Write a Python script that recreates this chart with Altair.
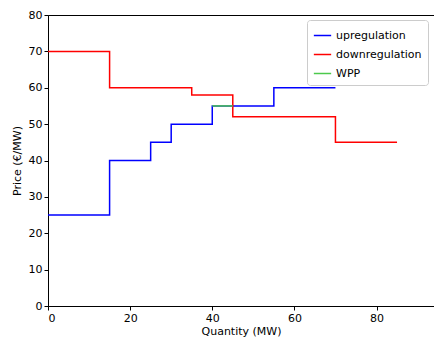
import altair as alt
import pandas as pd

up_x = [0, 15, 25, 30, 40, 55, 70]
up_y = [25, 40, 45, 50, 55, 60, 60]
down_x = [0, 15, 35, 45, 70, 85]
down_y = [70, 60, 58, 52, 45, 45]
wpp_x = [40, 45]
wpp_y = [55, 55]

series = ["upregulation", "downregulation", "WPP"]
colors = ["#0000ff", "#ff0000", "#4cc94c"]

rows = []
for name, xs, ys in [("upregulation", up_x, up_y), ("downregulation", down_x, down_y), ("WPP", wpp_x, wpp_y)]:
    for i, (x, y) in enumerate(zip(xs, ys)):
        rows.append({"series": name, "x": x, "y": y, "order": i})
df = pd.DataFrame(rows)

font = "DejaVu Sans"

chart = alt.Chart(df).mark_line(interpolate="step-after", strokeWidth=1.5).encode(
    x=alt.X("x:Q", title="Quantity (MW)",
            scale=alt.Scale(domain=[0, 94], nice=False, zero=False),
            axis=alt.Axis(values=[0, 20, 40, 60, 80], grid=False, format="d")),
    y=alt.Y("y:Q", title="Price (€/MW)",
            scale=alt.Scale(domain=[0, 80], nice=False),
            axis=alt.Axis(values=list(range(0, 81, 10)), grid=False, format="d")),
    color=alt.Color("series:N", sort=series,
                    scale=alt.Scale(domain=series, range=colors),
                    legend=alt.Legend(title=None, orient="none", legendX=259, legendY=5,
                                      symbolType="stroke", symbolStrokeWidth=1.5, symbolSize=300,
                                      labelFontSize=11, labelFont=font, labelColor="black",
                                      strokeColor="#cccccc", fillColor="white", padding=6,
                                      cornerRadius=3, rowPadding=4)),
    order="order:Q",
    detail="series:N",
).properties(
    width=386, height=291,
    autosize=alt.AutoSizeParams(type="none"),
    padding={"left": 40, "top": 7, "right": 0, "bottom": 31},
).configure_view(
    stroke="black", strokeWidth=1
).configure_axis(
    domainColor="black", tickColor="black", labelColor="black", titleColor="black",
    labelFont=font, titleFont=font, labelFontSize=11, titleFontSize=11,
    titleFontWeight="normal", tickSize=4, labelPadding=2, domainWidth=1
).configure_axisX(titlePadding=2).configure_axisY(titlePadding=6)

chart.save("out.html", embed_options={"renderer": "svg", "actions": False})
